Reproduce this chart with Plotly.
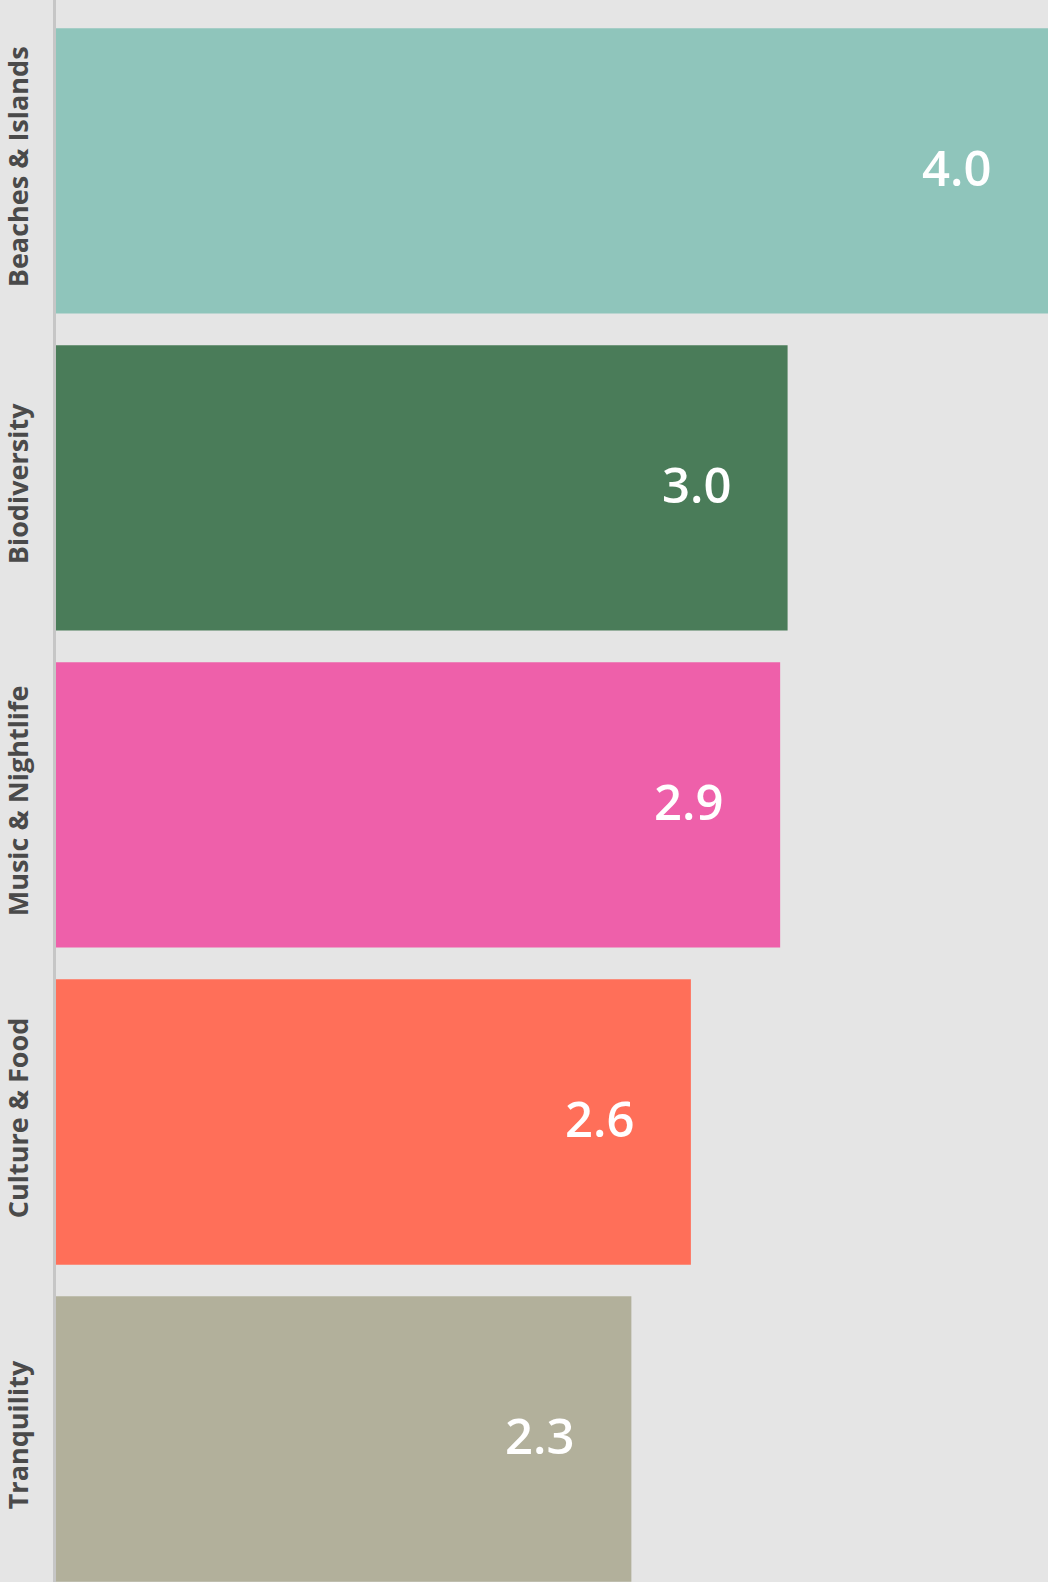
import plotly.graph_objects as go

categories = ["Beaches & Islands", "Biodiversity", "Music & Nightlife", "Culture & Food", "Tranquility"]
scores = [4.0, 2.95, 2.92, 2.56, 2.32]
labels = ["4.0", "3.0", "2.9", "2.6", "2.3"]
colors = ["#8fc5bb", "#4a7c59", "#ee60aa", "#ff6f59", "#b2b09b"]

fig = go.Figure()
fig.add_trace(go.Bar(
    x=scores,
    y=categories,
    orientation="h",
    marker=dict(color=colors, line=dict(width=0)),
    hoverinfo="skip",
))

for c, v, t in zip(categories, scores, labels):
    fig.add_annotation(
        x=v, y=c, text=t, showarrow=False,
        xanchor="right", yanchor="middle", xshift=-55, yshift=4,
        font=dict(family="Open Sans", size=49, color="white", weight=600),
    )

fig.update_layout(
    width=1048, height=1582,
    margin=dict(l=56, r=0, t=0, b=0),
    paper_bgcolor="#e5e5e5",
    plot_bgcolor="#e5e5e5",
    bargap=0.1,
    showlegend=False,
    xaxis=dict(range=[0, 4.0], showgrid=False, zeroline=False, showticklabels=False,
               showline=False, fixedrange=True, automargin=False),
    yaxis=dict(categoryorder="array", categoryarray=categories,
               range=[4.451, -0.539], showgrid=False, zeroline=False,
               showline=True, linecolor="#c6c6c6", linewidth=3,
               ticks="", tickangle=-90, ticklabelstandoff=14, automargin=False,
               tickfont=dict(family="Open Sans", size=27, color="#4a4a4a", weight="bold"),
               fixedrange=True),
)

fig.write_html("out.html", config={"displayModeBar": False},
               post_script="document.body.style.margin='0';document.body.style.padding='0';")
